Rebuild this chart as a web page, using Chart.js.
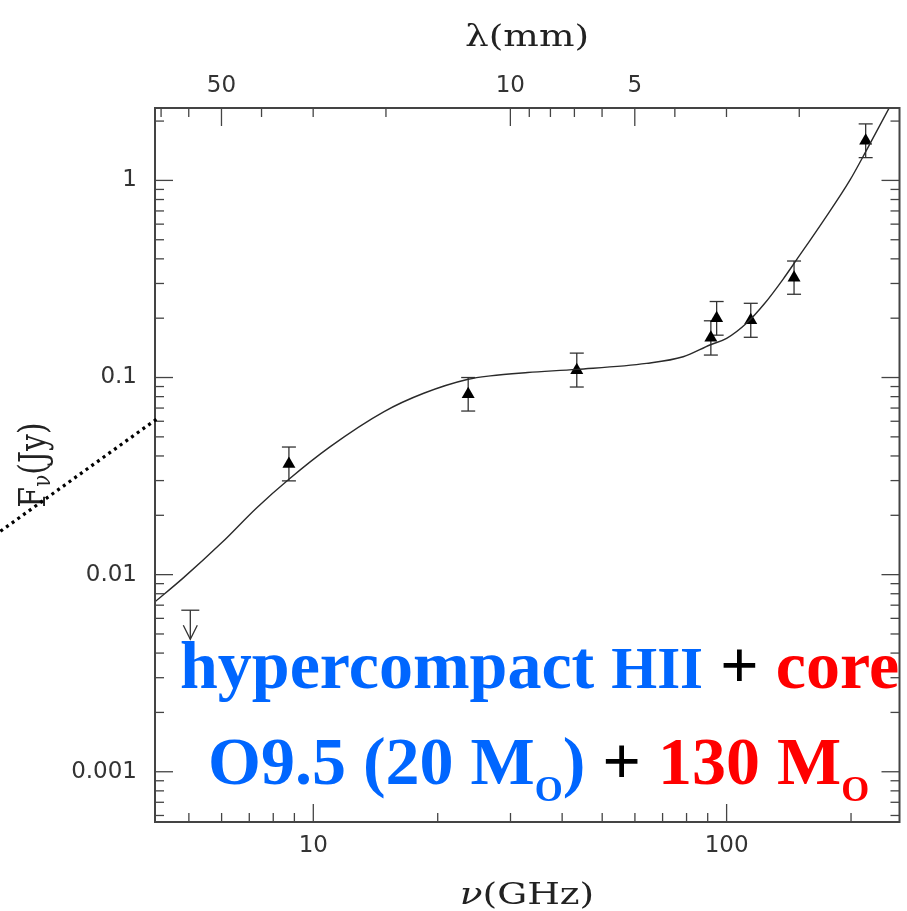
<!DOCTYPE html>
<html>
<head>
<meta charset="utf-8">
<script src="https://cdn.jsdelivr.net/npm/chart.js@4.4.1/dist/chart.umd.min.js"></script>
<style>
  html, body { margin: 0; padding: 0; background: #fff; }
  #wrap { width: 907px; height: 911px; }
</style>
</head>
<body>
<div id="wrap"><canvas id="sedChart" width="907" height="911"></canvas></div>
<script>
// measured fluxes (GHz, Jy) with error bar ends
const nuData = [8.73, 23.7, 43.4, 91.6, 94.6, 114.4, 145.6, 217];
const fluxData = [0.0364, 0.0823, 0.109, 0.159, 0.200, 0.195, 0.321, 1.59];
const fluxHigh = [0.0444, 0.100, 0.133, 0.194, 0.243, 0.238, 0.390, 1.935];
const fluxLow = [0.0299, 0.0676, 0.0895, 0.130, 0.164, 0.160, 0.2645, 1.305];

// upper limit
const limitNu = [5.04];
const limitFlux = [0.0066];

// model curve
const modelNu = [4.14, 4.84, 6.0, 7.29, 8.73, 10.97, 14.8, 18.5, 23.7, 26.8, 33, 43.4, 64, 78.5, 91.1, 100, 111.7, 123.7, 136.9, 147.6, 171.1, 198.6, 217.1, 247.2];
const modelFlux = [0.00728, 0.0096, 0.0145, 0.0218, 0.0305, 0.0445, 0.067, 0.0832, 0.098, 0.102, 0.106, 0.110, 0.118, 0.1275, 0.1462, 0.158, 0.1884, 0.238, 0.315, 0.395, 0.62, 1.0, 1.40, 2.326];

// dotted pointer line coming in from the left
const dotNu = [1.75, 4.18];
const dotFlux = [0.0166, 0.0616];

// axes
const nuMin = 4.14, nuMax = 262;
const fluxMin = 0.000556, fluxMax = 2.33;
const nuMajor = [10, 100];
const nuMinor = [5, 6, 7, 8, 9, 20, 30, 40, 50, 60, 70, 80, 90, 200];
const fluxMajor = [0.001, 0.01, 0.1, 1];
const fluxMinor = [0.0006, 0.0007, 0.0008, 0.0009,
    0.002, 0.003, 0.004, 0.005, 0.006, 0.007, 0.008, 0.009,
    0.02, 0.03, 0.04, 0.05, 0.06, 0.07, 0.08, 0.09,
    0.2, 0.3, 0.4, 0.5, 0.6, 0.7, 0.8, 0.9, 2];
const lambdaMajor = [50, 10, 5];
const lambdaMinor = [70, 60, 40, 30, 20, 9, 8, 7, 6, 4, 3, 2];
const C_MM_GHZ = 299.79;

const BLUE = '#0066ff';
const RED = '#ff0000';
const AXIS = '#444';
const tickFont = { family: 'DejaVu Sans', size: 23 };

// Function to build a fixed tick list for a log scale
function makeTicks(major, minor) {
    let list = major.map(v => ({ value: v, major: true }))
        .concat(minor.map(v => ({ value: v, major: false })));
    return list.sort((a, b) => a.value - b.value);
}

function line(ctx, x1, y1, x2, y2) {
    ctx.beginPath();
    ctx.moveTo(x1, y1);
    ctx.lineTo(x2, y2);
    ctx.stroke();
}

// Function to write a run of coloured text pieces from a start point
function drawRuns(ctx, runs, x, y) {
    runs.forEach(r => {
        ctx.font = 'bold ' + r.size + 'px "Liberation Serif", "Times New Roman", serif';
        ctx.fillStyle = r.color;
        ctx.fillText(r.text, x, y + (r.dy || 0));
        x += ctx.measureText(r.text).width;
    });
}

// Function to draw text stretched sideways like the original figure
function drawTitle(ctx, pieces, cx, cy, sx, rotate) {
    ctx.save();
    ctx.translate(cx, cy);
    if (rotate) {
        ctx.rotate(-Math.PI / 2);
        ctx.scale(1, sx);
    } else {
        ctx.scale(sx, 1);
    }
    ctx.textBaseline = 'middle';
    ctx.textAlign = 'left';
    let total = 0;
    pieces.forEach(p => { ctx.font = p.font; total += ctx.measureText(p.text).width; });
    let x = -total / 2;
    pieces.forEach(p => {
        ctx.font = p.font;
        ctx.fillStyle = '#222';
        ctx.fillText(p.text, x, p.dy || 0);
        x += ctx.measureText(p.text).width;
    });
    ctx.restore();
}

const framePlugin = {
    id: 'framePlugin',
    beforeDatasetsDraw(chart) {
        const ctx = chart.ctx;
        const x = chart.scales.x, y = chart.scales.y;
        ctx.save();
        ctx.strokeStyle = '#333';
        ctx.lineWidth = 1.3;
        // error bars
        nuData.forEach((nu, i) => {
            let px = x.getPixelForValue(nu);
            let hi = y.getPixelForValue(fluxHigh[i]);
            let lo = y.getPixelForValue(fluxLow[i]);
            line(ctx, px, hi, px, lo);
            line(ctx, px - 7, hi, px + 7, hi);
            line(ctx, px - 7, lo, px + 7, lo);
        });
        // upper limit arrow
        limitNu.forEach((nu, i) => {
            let px = x.getPixelForValue(nu);
            let py = y.getPixelForValue(limitFlux[i]);
            line(ctx, px - 9, py, px + 9, py);
            line(ctx, px, py, px, py + 29);
            ctx.beginPath();
            ctx.moveTo(px - 7, py + 15);
            ctx.lineTo(px, py + 29);
            ctx.lineTo(px + 7, py + 15);
            ctx.stroke();
        });
        ctx.restore();
    },
    afterDraw(chart) {
        const ctx = chart.ctx;
        const area = chart.chartArea;
        const x = chart.scales.x, xTop = chart.scales.xTop, y = chart.scales.y;
        ctx.save();
        ctx.strokeStyle = AXIS;
        ctx.lineWidth = 1.3;
        x.ticks.forEach(t => {
            let px = x.getPixelForValue(t.value);
            line(ctx, px, area.bottom, px, area.bottom - (t.major ? 18 : 9));
        });
        xTop.ticks.forEach(t => {
            let px = xTop.getPixelForValue(t.value);
            line(ctx, px, area.top, px, area.top + (t.major ? 18 : 9));
        });
        y.ticks.forEach(t => {
            let py = y.getPixelForValue(t.value);
            let len = t.major ? 18 : 9;
            line(ctx, area.left, py, area.left + len, py);
            line(ctx, area.right, py, area.right - len, py);
        });
        ctx.lineWidth = 2;
        ctx.strokeRect(area.left, area.top, area.right - area.left, area.bottom - area.top);

        // axis titles
        const serif = '30px "DejaVu Serif", serif';
        drawTitle(ctx, [{ text: 'λ(mm)', font: serif }], 527, 38, 1.25, false);
        drawTitle(ctx, [{ text: 'ν', font: 'italic ' + serif }, { text: '(GHz)', font: serif }], 527, 896, 1.25, false);
        drawTitle(ctx, [{ text: 'F', font: serif }, { text: 'ν', font: '20px "DejaVu Serif", serif', dy: 7 }, { text: '(Jy)', font: serif }],
            35, (area.top + area.bottom) / 2, 1.25, true);

        // dotted pointer
        ctx.strokeStyle = '#000';
        ctx.lineWidth = 3.2;
        ctx.setLineDash([3, 4]);
        line(ctx, x.getPixelForValue(dotNu[0]), y.getPixelForValue(dotFlux[0]),
            x.getPixelForValue(dotNu[1]), y.getPixelForValue(dotFlux[1]));
        ctx.setLineDash([]);

        // overlay labels
        ctx.textBaseline = 'alphabetic';
        ctx.textAlign = 'left';
        drawRuns(ctx, [
            { text: 'hypercompact ', color: BLUE, size: 68 },
            { text: 'HII', color: BLUE, size: 59 },
            { text: ' + ', color: '#000', size: 68 },
            { text: 'core', color: RED, size: 68 }
        ], 180, 688);
        drawRuns(ctx, [
            { text: 'O9.5 (20 M', color: BLUE, size: 68 },
            { text: 'O', color: BLUE, size: 36, dy: 17 },
            { text: ')', color: BLUE, size: 68 },
            { text: ' + ', color: '#000', size: 68 },
            { text: '130 M', color: RED, size: 68 },
            { text: 'O', color: RED, size: 36, dy: 17 }
        ], 208, 784);
        ctx.restore();
    }
};

const ctx = document.getElementById('sedChart').getContext('2d');
const sedChart = new Chart(ctx, {
    type: 'scatter',
    data: {
        datasets: [{
            type: 'line',
            data: modelNu.map((nu, i) => ({ x: nu, y: modelFlux[i] })),
            borderColor: '#2a2a2a',
            borderWidth: 1.4,
            pointRadius: 0,
            cubicInterpolationMode: 'monotone',
            fill: false
        }, {
            type: 'scatter',
            data: nuData.map((nu, i) => ({ x: nu, y: fluxData[i] })),
            pointStyle: 'triangle',
            pointRadius: 7.5,
            backgroundColor: '#000',
            borderColor: '#000',
            borderWidth: 0
        }]
    },
    options: {
        responsive: false,
        animation: false,
        devicePixelRatio: 1,
        events: [],
        layout: { padding: { left: 0, right: 7, top: 0, bottom: 0 } },
        plugins: { legend: { display: false }, tooltip: { enabled: false } },
        scales: {
            x: {
                type: 'logarithmic',
                position: 'bottom',
                min: nuMin,
                max: nuMax,
                grid: { display: false, drawTicks: false },
                border: { display: false },
                afterBuildTicks: scale => { scale.ticks = makeTicks(nuMajor, nuMinor); },
                afterFit: scale => { scale.height = 89; },
                ticks: {
                    autoSkip: false, maxRotation: 0, padding: 10, color: '#333', font: tickFont,
                    callback: (v, i, t) => t[i].major ? String(v) : ''
                }
            },
            xTop: {
                type: 'logarithmic',
                axis: 'x',
                position: 'top',
                min: nuMin,
                max: nuMax,
                grid: { display: false, drawTicks: false },
                border: { display: false },
                afterBuildTicks: scale => {
                    let list = lambdaMajor.map(l => ({ value: C_MM_GHZ / l, lambda: l, major: true }))
                        .concat(lambdaMinor.map(l => ({ value: C_MM_GHZ / l, lambda: l, major: false })));
                    scale.ticks = list.filter(t => t.value > nuMin && t.value < nuMax).sort((a, b) => a.value - b.value);
                },
                afterFit: scale => { scale.height = 108; },
                ticks: {
                    autoSkip: false, maxRotation: 0, padding: 8, color: '#333', font: tickFont,
                    callback: (v, i, t) => t[i].major ? String(t[i].lambda) : ''
                }
            },
            y: {
                type: 'logarithmic',
                position: 'left',
                min: fluxMin,
                max: fluxMax,
                grid: { display: false, drawTicks: false },
                border: { display: false },
                afterBuildTicks: scale => { scale.ticks = makeTicks(fluxMajor, fluxMinor); },
                afterFit: scale => { scale.width = 155; },
                ticks: {
                    autoSkip: false, padding: 18, color: '#333', font: tickFont,
                    callback: (v, i, t) => t[i].major ? String(v) : ''
                }
            }
        }
    },
    plugins: [framePlugin]
});
</script>
</body>
</html>
